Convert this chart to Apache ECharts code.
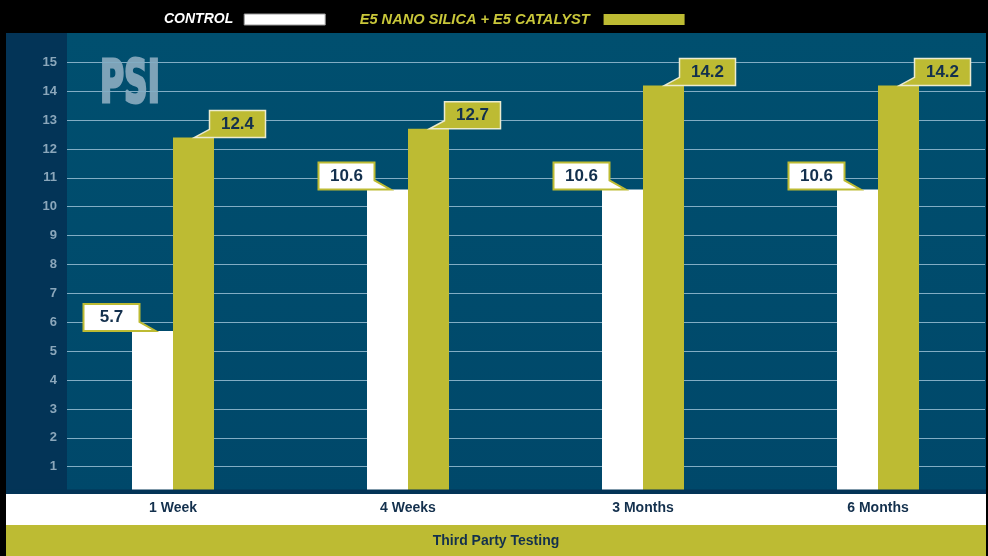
<!DOCTYPE html>
<html>
<head>
<meta charset="utf-8">
<script src="https://cdn.jsdelivr.net/npm/echarts@6/dist/echarts.min.js"></script>
<style>
  html, body { margin: 0; padding: 0; background: #000; }
  #chart { width: 988px; height: 556px; }
</style>
</head>
<body>
<div id="chart"></div>
<script>
// data
const categories = ['1 Week', '4 Weeks', '3 Months', '6 Months']
const controlValues = [5.7, 10.6, 10.6, 10.6]
const e5Values = [12.4, 12.7, 14.2, 14.2]
const seriesNames = ['CONTROL', 'E5 NANO SILICA + E5 CATALYST']
const yMin = 0
const yMax = 16
const yStep = 1

const NAVY = '#13304d'
const OLIVE = '#bdbb33'
const FONT = '"Liberation Sans", Arial, sans-serif'
const BAR_W = 41

// callout box + little tail pointing at the bar top
function callout(side) {
  return function (params, api) {
    const p = api.coord([api.value(0), api.value(1)])
    const cx = p[0] + side * BAR_W / 2
    const b = p[1]
    const w = 56, h = 27
    let pts, fill, stroke, lw, L, R
    if (side < 0) {
      R = cx - 13; L = R - w
      pts = [[L, b - h], [R, b - h], [R, b - 9], [cx + 3, b], [L, b]]
      fill = '#fff'; stroke = OLIVE; lw = 2
    } else {
      L = cx + 16; R = L + w
      pts = [[L, b - h], [R, b - h], [R, b], [cx + 1, b], [L, b - 8]]
      fill = OLIVE; stroke = '#ecebcf'; lw = 1.5
    }
    return {
      type: 'group',
      children: [
        { type: 'polygon', shape: { points: pts }, style: { fill: fill, stroke: stroke, lineWidth: lw } },
        {
          type: 'text',
          style: {
            text: String(api.value(1)), x: (L + R) / 2, y: b - h / 2,
            align: 'center', verticalAlign: 'middle',
            font: 'bold 17px ' + FONT, fill: NAVY
          }
        }
      ]
    }
  }
}

const chart = echarts.init(document.getElementById('chart'))

const option = {
  backgroundColor: '#000',
  animation: false,
  legend: {
    data: [
      { name: seriesNames[0], textStyle: { color: '#fff' }, itemStyle: { borderColor: '#999', borderWidth: 1 } },
      { name: seriesNames[1], textStyle: { color: '#c9c73a', fontSize: 14.6, padding: [0, 9, 0, 0] } }
    ],
    left: 159,
    top: 7,
    align: 'right',
    icon: 'rect',
    itemWidth: 81,
    itemHeight: 11,
    itemGap: 34,
    selectedMode: false,
    textStyle: { fontSize: 14, fontWeight: 'bold', fontStyle: 'italic', fontFamily: FONT, padding: [0, 6, 0, 0] }
  },
  grid: [
    { left: 67, right: 3, top: 33.4, bottom: 60.4 },
    { left: 173, width: 705, top: 33.4, bottom: 60.4 }
  ],
  xAxis: [
    { type: 'category', gridIndex: 0, data: categories, show: false },
    {
      type: 'category', gridIndex: 1, data: categories, z: 10, boundaryGap: false,
      axisLine: { show: false }, axisTick: { show: false },
      axisLabel: { color: NAVY, fontSize: 14, fontWeight: 'bold', fontFamily: FONT, margin: 6 }
    }
  ],
  yAxis: [
    {
      type: 'value', gridIndex: 0, min: yMin, max: yMax, interval: yStep,
      axisLine: { show: false }, axisTick: { show: false },
      axisLabel: {
        color: '#8ba7bb', fontSize: 13, fontWeight: 'bold', fontFamily: FONT, margin: 10,
        formatter: v => (v > yMin && v < yMax ? v : '')
      },
      splitLine: { showMinLine: false, showMaxLine: false, lineStyle: { color: '#82adc4', width: 1 } }
    },
    { type: 'value', gridIndex: 1, min: yMin, max: yMax, interval: yStep, show: false }
  ],
  graphic: [
    { type: 'rect', z: -3, shape: { x: 67, y: 33, width: 919, height: 462 },
      style: { fill: new echarts.graphic.LinearGradient(0, 0, 0, 1, [{ offset: 0, color: '#004f6f' }, { offset: 1, color: '#00486a' }]) } },
    { type: 'rect', z: -3, shape: { x: 6, y: 33, width: 61, height: 462 }, style: { fill: '#033457' } },
    { type: 'group', z: -2, x: 100, y: 87, scaleX: 0.63,
      children: [{ type: 'text', z: -2, style: {
        text: 'PSI', x: 0, y: 0, verticalAlign: 'middle',
        font: 'bold 58px "DejaVu Sans Condensed", sans-serif',
        fill: '#7ea3b8', stroke: '#7ea3b8', lineWidth: 3
      } }] },
    { type: 'rect', z: 5, shape: { x: 6, y: 489.5, width: 980, height: 5 }, style: { fill: '#033457' } },
    { type: 'rect', z: 5, shape: { x: 6, y: 494, width: 980, height: 31 }, style: { fill: '#fff' } },
    { type: 'rect', z: 5, shape: { x: 6, y: 525, width: 980, height: 31 }, style: { fill: OLIVE } },
    { type: 'text', z: 6, style: { text: 'Third Party Testing', x: 496, y: 541, align: 'center', verticalAlign: 'middle', font: 'bold 14px ' + FONT, fill: NAVY } }
  ],
  series: [
    { name: seriesNames[0], type: 'bar', xAxisIndex: 1, yAxisIndex: 1, data: controlValues, barWidth: BAR_W, barGap: '0%', itemStyle: { color: '#fff' } },
    { name: seriesNames[1], type: 'bar', xAxisIndex: 1, yAxisIndex: 1, data: e5Values, barWidth: BAR_W, barGap: '0%', itemStyle: { color: OLIVE } },
    { name: 'controlLabels', type: 'custom', xAxisIndex: 1, yAxisIndex: 1, z: 6, renderItem: callout(-1), data: controlValues.map((v, i) => [i, v]) },
    { name: 'e5Labels', type: 'custom', xAxisIndex: 1, yAxisIndex: 1, z: 6, renderItem: callout(1), data: e5Values.map((v, i) => [i, v]) }
  ]
}

chart.setOption(option)
</script>
</body>
</html>
